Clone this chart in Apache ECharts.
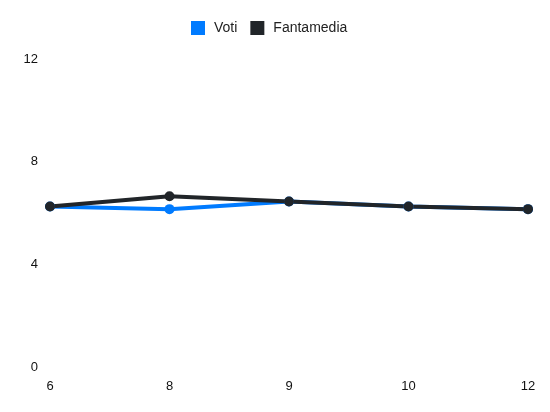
<!DOCTYPE html>
<html>
<head>
<meta charset="utf-8">
<script src="https://cdn.jsdelivr.net/npm/echarts@6/dist/echarts.min.js"></script>
<style>html,body{margin:0;padding:0;background:#fff}#c{width:550px;height:412px}</style>
</head>
<body>
<div id="c"></div>
<script>
const categories = ['6', '8', '9', '10', '12'];
const voti = [6.25, 6.15, 6.45, 6.25, 6.15];
const fantamedia = [6.25, 6.65, 6.45, 6.25, 6.15];
const yTicks = [0, 4, 8, 12];

const chart = echarts.init(document.getElementById('c'));
chart.setOption({
  animation: false,
  color: ['#007bff', '#212529'],
  legend: {
    top: 16, left: 186, padding: 5,
    icon: 'rect', itemWidth: 14, itemHeight: 14, itemGap: 13,
    textStyle: { fontSize: 14, color: '#222', fontFamily: 'Liberation Sans, Arial, sans-serif', padding: [0, 0, 0, 4] },
    data: ['Voti', 'Fantamedia']
  },
  grid: { left: 50, right: 22, top: 59, bottom: 45 },
  xAxis: {
    type: 'category', data: categories, boundaryGap: false,
    axisLine: { show: false }, axisTick: { show: false }, splitLine: { show: false },
    axisLabel: { margin: 13, fontSize: 13, color: '#111', fontFamily: 'Liberation Sans, Arial, sans-serif' }
  },
  yAxis: {
    type: 'value', min: yTicks[0], max: yTicks[yTicks.length - 1], interval: 4,
    axisLine: { show: false }, axisTick: { show: false }, splitLine: { show: false },
    axisLabel: { margin: 12, fontSize: 13, color: '#111', fontFamily: 'Liberation Sans, Arial, sans-serif' }
  },
  series: [
    { name: 'Voti', type: 'line', data: voti, symbol: 'circle', symbolSize: 10,
      lineStyle: { width: 4 }, itemStyle: { color: '#007bff' } },
    { name: 'Fantamedia', type: 'line', data: fantamedia, symbol: 'circle', symbolSize: 10,
      lineStyle: { width: 4 }, itemStyle: { color: '#212529' } }
  ]
});
</script>
</body>
</html>
